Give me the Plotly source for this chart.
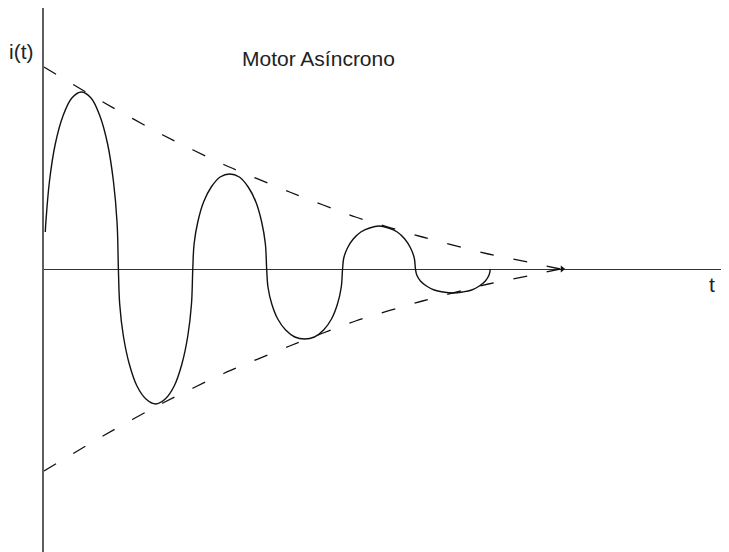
import plotly.graph_objects as go

# ---- data (t in arbitrary units from the origin, i in arbitrary units) ----
# traced current curve i(t): six decaying lobes
curve_t = [1.3, 1.8, 5.5, 11.3, 19.0, 27.9, 37.5, 47.1, 56.0, 63.7, 69.5, 73.2, 74.5,
           75.8, 79.5, 85.4, 93.1, 102.1, 111.8, 121.4, 130.4, 138.1, 144.0, 147.7, 149.0,
           150.3, 154.0, 159.8, 167.5, 176.4, 186.0, 195.6, 204.5, 212.2, 218.0, 221.7, 223.0,
           224.3, 228.1, 234.1, 242.0, 251.2, 261.0, 270.8, 280.0, 287.9, 293.9, 297.7, 299.0,
           300.2, 303.9, 309.7, 317.3, 326.1, 335.5, 345.0, 353.8, 361.3, 367.1, 370.8, 372.0,
           373.3, 377.0, 383.0, 390.8, 399.8, 409.5, 419.2, 428.3, 436.0, 442.0, 445.7, 447.0]
curve_i = [37, 46, 88, 125, 153, 171, 177, 171, 153, 125, 88, 46, 0,
           -35, -67, -95, -117, -130, -135, -130, -117, -95, -67, -35, 0,
           25, 47, 67, 82, 92, 95, 92, 82, 67, 47, 25, 0,
           -18, -35, -50, -61, -68, -70, -68, -61, -50, -35, -18, 0,
           11, 21, 30, 37, 41, 43, 41, 37, 30, 21, 11, 0,
           -6, -12, -17, -21, -23, -24, -23, -21, -17, -12, -6, 0]

# envelope (decaying amplitude)
env_t = [0, 59, 119, 181, 246, 312, 379, 445, 494, 517]
env_amp = [202, 167, 134, 104, 77, 52, 32, 15, 5, 0]

arrow_t = 519          # arrow head on the time axis
x_max = 686
i_top, i_bottom = 261, -283

title_text = "Motor Asíncrono"
y_label = "i(t)"
x_label = "t"

# page geometry (the html body adds an 8px offset)
PAGE_W, PAGE_H, OFF = 729, 552, 8
W, H = PAGE_W - OFF, PAGE_H - OFF
ML, MT = 44 - OFF, 0


def px_x(px):
    return (px - OFF - ML) / (W - ML)


def px_y(py):
    return (PAGE_H - py) / (H - MT)


fig = go.Figure()

dash = "14px,20px"
for sign in (1, -1):
    fig.add_trace(go.Scatter(x=env_t, y=[sign * a for a in env_amp], mode="lines",
                             line=dict(color="#111111", width=1.3, dash=dash,
                                       shape="spline", smoothing=0.6),
                             hoverinfo="skip", showlegend=False))

fig.add_trace(go.Scatter(x=curve_t, y=curve_i, mode="lines",
                         line=dict(color="#111111", width=1.4, shape="spline", smoothing=1),
                         hoverinfo="skip", showlegend=False))

fig.add_trace(go.Scatter(x=[arrow_t], y=[0], mode="markers",
                         marker=dict(symbol="triangle-right", size=6, color="#111111"),
                         hoverinfo="skip", showlegend=False))

font = dict(family="Liberation Sans, Arial, sans-serif", size=21, color="#222222")
annotations = [
    dict(text=title_text, x=px_x(318), y=px_y(58), xref="paper", yref="paper",
         showarrow=False, xanchor="center", yanchor="middle", font=font),
    dict(text=y_label, x=px_x(21.5), y=px_y(51), xref="paper", yref="paper",
         showarrow=False, xanchor="center", yanchor="middle", font=font),
    dict(text=x_label, x=px_x(712), y=px_y(284), xref="paper", yref="paper",
         showarrow=False, xanchor="center", yanchor="middle", font=font),
]

fig.update_layout(
    width=W, height=H,
    margin=dict(l=ML, r=0, t=MT, b=0),
    paper_bgcolor="white", plot_bgcolor="white",
    xaxis=dict(range=[0, x_max], showgrid=False, showticklabels=False, ticks="",
               zeroline=False, showline=False),
    yaxis=dict(range=[i_bottom, i_top], showgrid=False, showticklabels=False, ticks="",
               zeroline=True, zerolinecolor="#333333", zerolinewidth=1.4,
               showline=True, linecolor="#5f5f5f", linewidth=2),
    annotations=annotations,
)

fig.write_html("out.html")
